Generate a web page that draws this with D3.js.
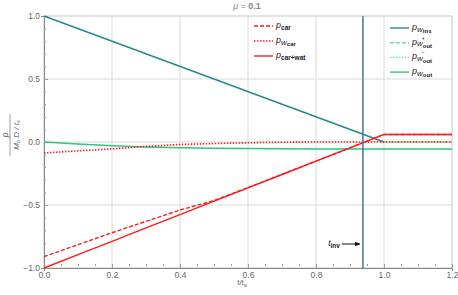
<!DOCTYPE html>
<html>
<head>
<meta charset="utf-8">
<script src="https://cdn.jsdelivr.net/npm/d3@7"></script>
<style>
body { margin: 0; background: #fff; }
text { font-family: "Liberation Sans", Arial, sans-serif; }
</style>
</head>
<body>
<svg width="458" height="295"></svg>
<script>
// data
var tGrid = [0, 0.1, 0.2, 0.3, 0.4, 0.5, 0.6, 0.7, 0.8, 0.9, 1.0, 1.2];
var pCarWat = [-1.0, -0.894, -0.788, -0.682, -0.576, -0.47, -0.364, -0.258, -0.152, -0.046, 0.06, 0.06];
var pCar = [-0.91, -0.815, -0.72, -0.63, -0.54, -0.465, -0.362, -0.257, -0.152, -0.046, 0.06, 0.06];
var pWCar = [-0.087, -0.07, -0.055, -0.035, -0.02, -0.012, -0.006, -0.002, 0, 0, 0, 0];
var pWOut = [0, -0.016, -0.03, -0.039, -0.045, -0.049, -0.052, -0.054, -0.055, -0.056, -0.056, -0.056];
var tIns = [0, 1.0];
var pWIns = [1.0, 0];
var tOutPlus = [1.0, 1.2];
var pWOutPlus = [0, 0];
var tInv = 0.938;

var xTicks = [0, 0.2, 0.4, 0.6, 0.8, 1.0, 1.2];
var yTicks = [-1.0, -0.5, 0.0, 0.5, 1.0];

var svg = d3.select('svg');
var x = d3.scaleLinear().domain([0, 1.2]).range([44, 452]);
var y = d3.scaleLinear().domain([-1, 1]).range([268, 16]);

var teal = '#25898a', green = '#2dc67c', lightGreen = '#72dcae', red = '#ff1a1a', vline = '#4f7394';

// grid
svg.append('g').selectAll('line').data(xTicks.slice(1, -1)).enter().append('line')
  .attr('x1', d => x(d)).attr('x2', d => x(d)).attr('y1', y(1)).attr('y2', y(-1))
  .attr('stroke', '#d9d9d9').attr('stroke-width', 1);
svg.append('g').selectAll('line').data([-0.5, 0, 0.5]).enter().append('line')
  .attr('y1', d => y(d)).attr('y2', d => y(d)).attr('x1', x(0)).attr('x2', x(1.2))
  .attr('stroke', '#d9d9d9').attr('stroke-width', 1);

// frame
svg.append('rect').attr('x', x(0)).attr('y', y(1)).attr('width', x(1.2) - x(0)).attr('height', y(-1) - y(1))
  .attr('fill', 'none').attr('stroke', '#c8c8c8').attr('stroke-width', 1);

// axes
var fmt = d => d === 0 ? '0.0' : (d < 0 ? '\u2212' + Math.abs(d).toFixed(1) : d.toFixed(1));
var xAxis = d3.axisBottom(x).tickValues(d3.range(0, 1.2001, 0.05)).tickSize(3)
  .tickFormat(d => xTicks.some(t => Math.abs(t - d) < 1e-6) ? fmt(d) : '');
var gx = svg.append('g').attr('transform', 'translate(0,' + y(-1) + ')').call(xAxis);
gx.selectAll('.tick line').attr('y2', d => xTicks.some(t => Math.abs(t - d) < 1e-6) ? 4 : 2).attr('y1', 0)
  .attr('transform', 'translate(0,-4)').attr('stroke', '#999');
var yAxis = d3.axisLeft(y).tickValues(d3.range(-1, 1.0001, 0.1)).tickSize(3)
  .tickFormat(d => yTicks.some(t => Math.abs(t - d) < 1e-6) ? fmt(d) : '');
var gy = svg.append('g').attr('transform', 'translate(' + x(0) + ',0)').call(yAxis);
gy.selectAll('.tick line').attr('x2', d => yTicks.some(t => Math.abs(t - d) < 1e-6) ? 4 : 2)
  .attr('transform', 'translate(0,0)').attr('stroke', '#999');
[gx, gy].forEach(g => {
  g.select('.domain').attr('stroke', '#888');
  g.selectAll('.tick text').attr('fill', '#666').attr('font-size', 8.5).style('font-family', '"Liberation Sans", Arial, sans-serif');
});
gy.selectAll('.tick text').attr('x', -4);
gx.selectAll('.tick text').attr('y', 4);

// lines
var line = d3.line().x(d => x(d[0])).y(d => y(d[1]));
function draw(ts, vs, color, dash, w) {
  svg.append('path').datum(d3.zip(ts, vs)).attr('d', line)
    .attr('fill', 'none').attr('stroke', color).attr('stroke-width', w || 1.5)
    .attr('stroke-dasharray', dash || null);
}
draw(tGrid, pWOut, green, null, 1.5);
draw(tOutPlus, pWOutPlus, lightGreen, '4,2', 1.5);
draw(tIns, pWIns, teal, null, 1.5);
draw(tGrid, pCar, red, '4,2', 1.4);
draw(tGrid, pWCar, red, '1.5,1.5', 1.6);
draw(tGrid, pCarWat, red, null, 1.4);

// t_inv line
svg.append('line').attr('x1', x(tInv)).attr('x2', x(tInv)).attr('y1', y(1)).attr('y2', y(-1))
  .attr('stroke', vline).attr('stroke-width', 1.5);
svg.append('defs').append('marker').attr('id', 'arr').attr('viewBox', '0 0 10 10')
  .attr('refX', 9).attr('refY', 5).attr('markerWidth', 6).attr('markerHeight', 6).attr('orient', 'auto')
  .append('path').attr('d', 'M0,1 L10,5 L0,9 z').attr('fill', '#111');
svg.append('line').attr('x1', x(tInv) - 21).attr('x2', x(tInv) - 3).attr('y1', 244).attr('y2', 244)
  .attr('stroke', '#111').attr('stroke-width', 1).attr('marker-end', 'url(#arr)');
var ti = svg.append('text').attr('x', x(tInv) - 23).attr('y', 246).attr('text-anchor', 'end')
  .attr('font-size', 8.5).attr('fill', '#222');
ti.append('tspan').text('t').attr('font-style', 'italic');
ti.append('tspan').text('inv').attr('font-size', 6.5).attr('dy', 1.5).attr('font-weight', 'bold');

// title
var title = svg.append('text').attr('x', 247).attr('y', 9).attr('text-anchor', 'middle')
  .attr('font-size', 9).attr('fill', '#888');
title.append('tspan').text('\u03bc').attr('font-style', 'italic');
title.append('tspan').text(' = ');
title.append('tspan').text('0.1').attr('font-weight', 'bold');

// axis labels
var xl = svg.append('text').attr('x', 242).attr('y', 285).attr('text-anchor', 'middle')
  .attr('font-size', 8).attr('fill', '#666');
xl.append('tspan').text('t/t');
xl.append('tspan').text('s').attr('font-size', 6).attr('dy', 2);

var yl = svg.append('g').attr('transform', 'translate(10,135) rotate(-90)');
yl.append('text').attr('x', 0).attr('y', -2).attr('text-anchor', 'middle').attr('font-size', 8.5)
  .attr('font-style', 'italic').attr('fill', '#666').text('p');
yl.append('line').attr('x1', -21).attr('x2', 21).attr('y1', 0).attr('y2', 0).attr('stroke', '#777').attr('stroke-width', 0.7);
var den = yl.append('text').attr('x', 0).attr('y', 8.5).attr('text-anchor', 'middle').attr('font-size', 8)
  .attr('font-style', 'italic').attr('fill', '#666');
den.append('tspan').text('M');
den.append('tspan').text('o').attr('font-size', 5.5).attr('dy', 1.5);
den.append('tspan').text(' D / t').attr('dy', -1.5);
den.append('tspan').text('s').attr('font-size', 5.5).attr('dy', 1.5);

// legends
var legLeft = [
  {sub: 'car', color: red, dash: '4,2'},
  {sub: 'w', sub2: 'car', color: red, dash: '1.5,1.5'},
  {sub: 'car+wat', color: red, dash: null}
];
var legRight = [
  {sub: 'w', sub2: 'ins', color: teal, dash: null},
  {sub: 'w', sub2: 'out', sup: '+', color: lightGreen, dash: '4,2'},
  {sub: 'w', sub2: 'out', sup: '\u2212', color: lightGreen, dash: '1.5,1.5'},
  {sub: 'w', sub2: 'out', color: green, dash: null}
];
function legend(items, x0, y0, dy) {
  items.forEach(function (it, i) {
    var yy = y0 + i * dy;
    svg.append('line').attr('x1', x0).attr('x2', x0 + 19).attr('y1', yy).attr('y2', yy)
      .attr('stroke', it.color).attr('stroke-width', 1.4).attr('stroke-dasharray', it.dash);
    var t = svg.append('text').attr('x', x0 + 22).attr('y', yy + 2).attr('font-size', 9).attr('fill', '#222');
    t.append('tspan').text('p').attr('font-style', 'italic');
    if (it.sub2) {
      t.append('tspan').text('w').attr('font-style', 'italic').attr('font-size', 8).attr('dy', 1.5);
      if (it.sup) {
        t.append('tspan').text(it.sup).attr('font-size', 5).attr('dx', -1).attr('dy', -6.5);
        t.append('tspan').text(it.sub2).attr('font-size', 6).attr('font-weight', 'bold').attr('dx', -2).attr('dy', 8.5);
      } else {
        t.append('tspan').text(it.sub2).attr('font-size', 6).attr('font-weight', 'bold').attr('dy', 1.5);
      }
    } else {
      t.append('tspan').text(it.sub).attr('font-size', 6.5).attr('font-weight', 'bold').attr('dy', 1.5);
    }
  });
}
legend(legLeft, 254, 26, 15);
legend(legRight, 390, 28, 14.7);
</script>
</body>
</html>
